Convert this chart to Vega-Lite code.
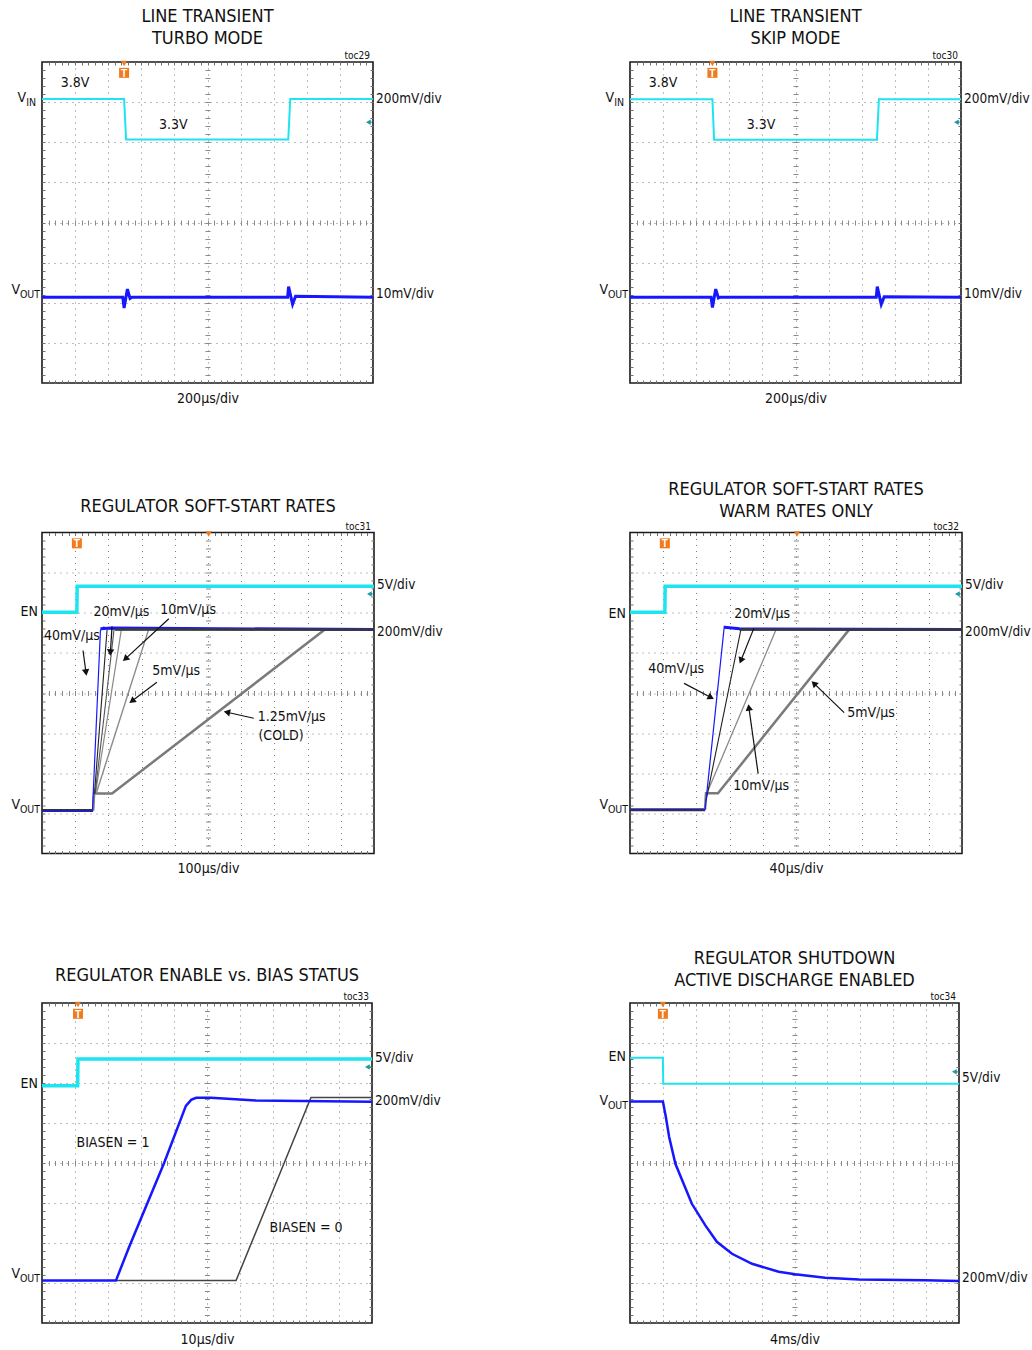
{
"$schema":"https://vega.github.io/schema/vega-lite/v6.json",
"background":"white",
"padding":{"left":10,"top":7,"right":0,"bottom":0},
"autosize":{"type":"pad"},
"bounds":"flush",
"columns":2,
"spacing":{"row":149.5,"column":256},
"datasets":{"d":[
{"p":1,"k":"tr","s":"VIN","i":0,"x":0,"y":7.08},{"p":1,"k":"tr","s":"VIN","i":1,"x":2.48,"y":7.08},{"p":1,"k":"tr","s":"VIN","i":2,"x":2.54,"y":6.07},{"p":1,"k":"tr","s":"VIN","i":3,"x":7.44,"y":6.07},{"p":1,"k":"tr","s":"VIN","i":4,"x":7.5,"y":7.08},{"p":1,"k":"tr","s":"VIN","i":5,"x":10,"y":7.08},
{"p":1,"k":"tr","s":"VOUT","i":0,"x":0,"y":2.14},{"p":1,"k":"tr","s":"VOUT","i":1,"x":2.44,"y":2.14},{"p":1,"k":"tr","s":"VOUT","i":2,"x":2.48,"y":1.87},{"p":1,"k":"tr","s":"VOUT","i":3,"x":2.58,"y":2.34},{"p":1,"k":"tr","s":"VOUT","i":4,"x":2.66,"y":2.11},{"p":1,"k":"tr","s":"VOUT","i":5,"x":2.72,"y":2.14},{"p":1,"k":"tr","s":"VOUT","i":6,"x":7.42,"y":2.14},{"p":1,"k":"tr","s":"VOUT","i":7,"x":7.45,"y":2.4},{"p":1,"k":"tr","s":"VOUT","i":8,"x":7.57,"y":1.96},{"p":1,"k":"tr","s":"VOUT","i":9,"x":7.66,"y":2.16},{"p":1,"k":"tr","s":"VOUT","i":10,"x":10,"y":2.14},
{"p":1,"k":"LV","t":"V","s":"IN","y":7.1},{"p":1,"k":"LV","t":"V","s":"OUT","y":2.32},
{"p":1,"k":"R","t":"200mV/div","y":7.08},{"p":1,"k":"R","t":"10mV/div","y":2.22},
{"p":1,"k":"A","t":"3.8V","x":1.0,"y":7.48},{"p":1,"k":"A","t":"3.3V","x":3.97,"y":6.43},
{"p":1,"k":"T","x":2.48},{"p":1,"k":"TR","x":2.48},{"p":1,"k":"G","y":6.5},{"p":1,"k":"toc","t":"toc29"},

{"p":2,"k":"tr","s":"VIN","i":0,"x":0,"y":7.07},{"p":2,"k":"tr","s":"VIN","i":1,"x":2.49,"y":7.07},{"p":2,"k":"tr","s":"VIN","i":2,"x":2.54,"y":6.06},{"p":2,"k":"tr","s":"VIN","i":3,"x":7.46,"y":6.06},{"p":2,"k":"tr","s":"VIN","i":4,"x":7.52,"y":7.07},{"p":2,"k":"tr","s":"VIN","i":5,"x":10,"y":7.07},
{"p":2,"k":"tr","s":"VOUT","i":0,"x":0,"y":2.14},{"p":2,"k":"tr","s":"VOUT","i":1,"x":2.45,"y":2.14},{"p":2,"k":"tr","s":"VOUT","i":2,"x":2.49,"y":1.88},{"p":2,"k":"tr","s":"VOUT","i":3,"x":2.59,"y":2.34},{"p":2,"k":"tr","s":"VOUT","i":4,"x":2.67,"y":2.12},{"p":2,"k":"tr","s":"VOUT","i":5,"x":2.73,"y":2.14},{"p":2,"k":"tr","s":"VOUT","i":6,"x":7.44,"y":2.14},{"p":2,"k":"tr","s":"VOUT","i":7,"x":7.47,"y":2.4},{"p":2,"k":"tr","s":"VOUT","i":8,"x":7.59,"y":1.96},{"p":2,"k":"tr","s":"VOUT","i":9,"x":7.68,"y":2.15},{"p":2,"k":"tr","s":"VOUT","i":10,"x":10,"y":2.14},
{"p":2,"k":"LV","t":"V","s":"IN","y":7.1},{"p":2,"k":"LV","t":"V","s":"OUT","y":2.32},
{"p":2,"k":"R","t":"200mV/div","y":7.08},{"p":2,"k":"R","t":"10mV/div","y":2.22},
{"p":2,"k":"A","t":"3.8V","x":1.0,"y":7.48},{"p":2,"k":"A","t":"3.3V","x":3.96,"y":6.43},
{"p":2,"k":"T","x":2.49},{"p":2,"k":"TR","x":2.49},{"p":2,"k":"G","y":6.5},{"p":2,"k":"toc","t":"toc30"},

{"p":3,"k":"tr","s":"EN","i":0,"x":0,"y":6.01},{"p":3,"k":"tr","s":"EN","i":1,"x":1.05,"y":6.01},{"p":3,"k":"tr","s":"EN","i":2,"x":1.06,"y":6.66},{"p":3,"k":"tr","s":"EN","i":3,"x":10,"y":6.66},
{"p":3,"k":"tr","s":"base","i":0,"x":0,"y":1.07},{"p":3,"k":"tr","s":"base","i":1,"x":1.54,"y":1.07},
{"p":3,"k":"tr","s":"r125","i":0,"x":1.54,"y":1.07},{"p":3,"k":"tr","s":"r125","i":1,"x":1.57,"y":1.495},{"p":3,"k":"tr","s":"r125","i":2,"x":2.11,"y":1.495},{"p":3,"k":"tr","s":"r125","i":3,"x":8.52,"y":5.58},{"p":3,"k":"tr","s":"r125","i":4,"x":10,"y":5.58},
{"p":3,"k":"tr","s":"r5","i":0,"x":1.63,"y":1.49},{"p":3,"k":"tr","s":"r5","i":1,"x":3.21,"y":5.58},
{"p":3,"k":"tr","s":"r10","i":0,"x":1.61,"y":1.49},{"p":3,"k":"tr","s":"r10","i":1,"x":2.39,"y":5.58},
{"p":3,"k":"tr","s":"r20b","i":0,"x":1.6,"y":1.49},{"p":3,"k":"tr","s":"r20b","i":1,"x":2.17,"y":5.58},
{"p":3,"k":"tr","s":"r20","i":0,"x":1.58,"y":1.49},{"p":3,"k":"tr","s":"r20","i":1,"x":1.96,"y":5.58},
{"p":3,"k":"tr","s":"blue","i":0,"x":0,"y":1.07},{"p":3,"k":"tr","s":"blue","i":1,"x":1.52,"y":1.07},{"p":3,"k":"tr","s":"blue","i":2,"x":1.76,"y":5.56},{"p":3,"k":"tr","s":"blue","i":3,"x":1.85,"y":5.64},{"p":3,"k":"tr","s":"blue","i":4,"x":2.1,"y":5.6},{"p":3,"k":"tr","s":"blue","i":5,"x":10,"y":5.58},
{"p":3,"k":"tr","s":"bluetop","i":0,"x":1.76,"y":5.6},{"p":3,"k":"tr","s":"bluetop","i":1,"x":2.1,"y":5.62},{"p":3,"k":"tr","s":"bluetop","i":2,"x":10,"y":5.58},
{"p":3,"k":"tr","s":"top","i":0,"x":2.2,"y":5.58},{"p":3,"k":"tr","s":"top","i":1,"x":10,"y":5.58},
{"p":3,"k":"L","t":"EN","y":6.01},{"p":3,"k":"LV","t":"V","s":"OUT","y":1.22},
{"p":3,"k":"R","t":"5V/div","y":6.7},{"p":3,"k":"R","t":"200mV/div","y":5.53},
{"p":3,"k":"A","t":"40mV/µs","x":0.9,"y":5.41},{"p":3,"k":"A","t":"20mV/µs","x":2.39,"y":6.01},{"p":3,"k":"A","t":"10mV/µs","x":4.4,"y":6.08},{"p":3,"k":"A","t":"5mV/µs","x":4.04,"y":4.56},{"p":3,"k":"A","t":"1.25mV/µs","x":7.52,"y":3.41},{"p":3,"k":"A","t":"(COLD)","x":7.2,"y":2.94},
{"p":3,"k":"W","x":1.235,"y":5.06,"x2":1.325,"y2":4.51},{"p":3,"k":"W","x":2.11,"y":5.66,"x2":2.06,"y2":5.01},{"p":3,"k":"W","x":3.82,"y":5.85,"x2":2.51,"y2":4.85},{"p":3,"k":"W","x":3.46,"y":4.27,"x2":2.71,"y2":3.8},{"p":3,"k":"W","x":6.38,"y":3.37,"x2":5.57,"y2":3.52},
{"p":3,"k":"T","x":1.05},{"p":3,"k":"TR","x":5.02},{"p":3,"k":"G","y":6.47},{"p":3,"k":"toc","t":"toc31"},

{"p":4,"k":"tr","s":"EN","i":0,"x":0,"y":6.01},{"p":4,"k":"tr","s":"EN","i":1,"x":1.05,"y":6.01},{"p":4,"k":"tr","s":"EN","i":2,"x":1.06,"y":6.66},{"p":4,"k":"tr","s":"EN","i":3,"x":10,"y":6.66},
{"p":4,"k":"tr","s":"base","i":0,"x":0,"y":1.09},{"p":4,"k":"tr","s":"base","i":1,"x":2.26,"y":1.09},
{"p":4,"k":"tr","s":"r125","i":0,"x":2.26,"y":1.09},{"p":4,"k":"tr","s":"r125","i":1,"x":2.29,"y":1.5},{"p":4,"k":"tr","s":"r125","i":2,"x":2.65,"y":1.5},{"p":4,"k":"tr","s":"r125","i":3,"x":6.6,"y":5.58},{"p":4,"k":"tr","s":"r125","i":4,"x":10,"y":5.58},
{"p":4,"k":"tr","s":"r10","i":0,"x":2.29,"y":1.45},{"p":4,"k":"tr","s":"r10","i":1,"x":4.4,"y":5.58},
{"p":4,"k":"tr","s":"r20","i":0,"x":2.29,"y":1.32},{"p":4,"k":"tr","s":"r20","i":1,"x":3.34,"y":5.58},
{"p":4,"k":"tr","s":"blue","i":0,"x":0,"y":1.09},{"p":4,"k":"tr","s":"blue","i":1,"x":2.26,"y":1.09},{"p":4,"k":"tr","s":"blue","i":2,"x":2.84,"y":5.66},{"p":4,"k":"tr","s":"blue","i":3,"x":2.95,"y":5.62},{"p":4,"k":"tr","s":"blue","i":4,"x":3.3,"y":5.6},{"p":4,"k":"tr","s":"blue","i":5,"x":10,"y":5.58},
{"p":4,"k":"tr","s":"bluetop","i":0,"x":2.84,"y":5.64},{"p":4,"k":"tr","s":"bluetop","i":1,"x":3.3,"y":5.6},{"p":4,"k":"tr","s":"bluetop","i":2,"x":10,"y":5.58},
{"p":4,"k":"tr","s":"top","i":0,"x":3.3,"y":5.58},{"p":4,"k":"tr","s":"top","i":1,"x":10,"y":5.58},
{"p":4,"k":"L","t":"EN","y":5.98},{"p":4,"k":"LV","t":"V","s":"OUT","y":1.22},
{"p":4,"k":"R","t":"5V/div","y":6.7},{"p":4,"k":"R","t":"200mV/div","y":5.53},
{"p":4,"k":"A","t":"20mV/µs","x":3.98,"y":5.98},{"p":4,"k":"A","t":"40mV/µs","x":1.39,"y":4.61},{"p":4,"k":"A","t":"5mV/µs","x":7.26,"y":3.49},{"p":4,"k":"A","t":"10mV/µs","x":3.95,"y":1.67},
{"p":4,"k":"W","x":3.73,"y":5.61,"x2":3.34,"y2":4.81},{"p":4,"k":"W","x":1.63,"y":4.24,"x2":2.44,"y2":3.89},{"p":4,"k":"W","x":6.45,"y":3.51,"x2":5.54,"y2":4.24},{"p":4,"k":"W","x":3.86,"y":1.99,"x2":3.58,"y2":3.64},
{"p":4,"k":"T","x":1.05},{"p":4,"k":"TR","x":5.03},{"p":4,"k":"G","y":6.47},{"p":4,"k":"toc","t":"toc32"},

{"p":5,"k":"tr","s":"EN","i":0,"x":0,"y":5.93},{"p":5,"k":"tr","s":"EN","i":1,"x":1.08,"y":5.93},{"p":5,"k":"tr","s":"EN","i":2,"x":1.09,"y":6.6},{"p":5,"k":"tr","s":"EN","i":3,"x":10,"y":6.6},
{"p":5,"k":"tr","s":"blk","i":0,"x":2.24,"y":1.06},{"p":5,"k":"tr","s":"blk","i":1,"x":5.88,"y":1.06},{"p":5,"k":"tr","s":"blk","i":2,"x":8.15,"y":5.64},{"p":5,"k":"tr","s":"blk","i":3,"x":10,"y":5.64},
{"p":5,"k":"tr","s":"blue","i":0,"x":0,"y":1.06},{"p":5,"k":"tr","s":"blue","i":1,"x":2.24,"y":1.06},{"p":5,"k":"tr","s":"blue","i":2,"x":2.64,"y":1.9},{"p":5,"k":"tr","s":"blue","i":3,"x":3.7,"y":4.0},{"p":5,"k":"tr","s":"blue","i":4,"x":4.36,"y":5.43},{"p":5,"k":"tr","s":"blue","i":5,"x":4.52,"y":5.58},{"p":5,"k":"tr","s":"blue","i":6,"x":4.67,"y":5.63},{"p":5,"k":"tr","s":"blue","i":7,"x":5.12,"y":5.63},{"p":5,"k":"tr","s":"blue","i":8,"x":6.48,"y":5.56},{"p":5,"k":"tr","s":"blue","i":9,"x":10,"y":5.53},
{"p":5,"k":"L","t":"EN","y":5.98},{"p":5,"k":"LV","t":"V","s":"OUT","y":1.23},
{"p":5,"k":"R","t":"5V/div","y":6.63},{"p":5,"k":"R","t":"200mV/div","y":5.55},
{"p":5,"k":"A","t":"BIASEN = 1","x":2.15,"y":4.51},{"p":5,"k":"A","t":"BIASEN = 0","x":8.0,"y":2.38},
{"p":5,"k":"T","x":1.09},{"p":5,"k":"TR","x":1.09},{"p":5,"k":"G","y":6.4},{"p":5,"k":"toc","t":"toc33"},

{"p":6,"k":"tr","s":"EN","i":0,"x":0,"y":6.63},{"p":6,"k":"tr","s":"EN","i":1,"x":1.0,"y":6.63},{"p":6,"k":"tr","s":"EN","i":2,"x":1.01,"y":5.98},{"p":6,"k":"tr","s":"EN","i":3,"x":10,"y":5.98},
{"p":6,"k":"tr","s":"blue","i":0,"x":0,"y":5.54},{"p":6,"k":"tr","s":"blue","i":1,"x":1.0,"y":5.54},{"p":6,"k":"tr","s":"blue","i":2,"x":1.09,"y":5.15},{"p":6,"k":"tr","s":"blue","i":3,"x":1.19,"y":4.65},{"p":6,"k":"tr","s":"blue","i":4,"x":1.38,"y":3.98},{"p":6,"k":"tr","s":"blue","i":5,"x":1.88,"y":2.98},{"p":6,"k":"tr","s":"blue","i":6,"x":2.29,"y":2.44},{"p":6,"k":"tr","s":"blue","i":7,"x":2.64,"y":2.03},{"p":6,"k":"tr","s":"blue","i":8,"x":3.1,"y":1.73},{"p":6,"k":"tr","s":"blue","i":9,"x":3.71,"y":1.48},{"p":6,"k":"tr","s":"blue","i":10,"x":4.52,"y":1.28},{"p":6,"k":"tr","s":"blue","i":11,"x":5.02,"y":1.22},{"p":6,"k":"tr","s":"blue","i":12,"x":5.93,"y":1.13},{"p":6,"k":"tr","s":"blue","i":13,"x":6.96,"y":1.09},{"p":6,"k":"tr","s":"blue","i":14,"x":8.97,"y":1.07},{"p":6,"k":"tr","s":"blue","i":15,"x":10,"y":1.05},
{"p":6,"k":"L","t":"EN","y":6.65},{"p":6,"k":"LV","t":"V","s":"OUT","y":5.55},
{"p":6,"k":"R","t":"5V/div","y":6.13},{"p":6,"k":"R","t":"200mV/div","y":1.13},
{"p":6,"k":"T","x":1.0},{"p":6,"k":"TR","x":1.0},{"p":6,"k":"G","y":6.28},{"p":6,"k":"toc","t":"toc34"}
]},
"concat":[
{"width":331,"height":321,"title":{"text":["LINE TRANSIENT","TURBO MODE"],"offset":3},
"data":{"name":"d"},"transform":[{"filter":"datum.p==1"}],
"resolve":{"axis":{"x":"independent","y":"independent"}},
"layer":[
{"data":{"values":[{}]},"mark":{"type":"point","opacity":0},"encoding":{"x":{"datum":0,"type":"quantitative","scale":{"domain":[0,10],"nice":false,"zero":false},"axis":{"orient":"bottom","values":[1,2,3,4,5,6,7,8,9],"grid":true,"ticks":false,"title":"200µs/div","titlePadding":8,"titleBaseline":"top"}},"y":{"datum":0,"type":"quantitative","scale":{"domain":[0,8],"nice":false,"zero":false},"axis":{"orient":"left","values":[1,2,3,4,5,6,7],"grid":true,"ticks":false,"title":null}}}},
{"data":{"values":[{}]},"mark":{"type":"point","opacity":0},"encoding":{"x":{"datum":0,"type":"quantitative","axis":{"orient":"top","offset":-3,"title":null,"values":[0.2,0.4,0.6,0.8,1,1.2,1.4,1.6,1.8,2,2.2,2.4,2.6,2.8,3,3.2,3.4,3.6,3.8,4,4.2,4.4,4.6,4.8,5,5.2,5.4,5.6,5.8,6,6.2,6.4,6.6,6.8,7,7.2,7.4,7.6,7.8,8,8.2,8.4,8.6,8.8,9,9.2,9.4,9.6,9.8]}},"y":{"datum":0,"type":"quantitative","axis":{"orient":"left","offset":-3,"title":null,"values":[0.2,0.4,0.6,0.8,1,1.2,1.4,1.6,1.8,2,2.2,2.4,2.6,2.8,3,3.2,3.4,3.6,3.8,4,4.2,4.4,4.6,4.8,5,5.2,5.4,5.6,5.8,6,6.2,6.4,6.6,6.8,7,7.2,7.4,7.6,7.8]}}}},
{"data":{"values":[{}]},"mark":{"type":"point","opacity":0},"encoding":{"x":{"datum":0,"type":"quantitative","axis":{"orient":"bottom","offset":-3,"title":null,"values":[0.2,0.4,0.6,0.8,1,1.2,1.4,1.6,1.8,2,2.2,2.4,2.6,2.8,3,3.2,3.4,3.6,3.8,4,4.2,4.4,4.6,4.8,5,5.2,5.4,5.6,5.8,6,6.2,6.4,6.6,6.8,7,7.2,7.4,7.6,7.8,8,8.2,8.4,8.6,8.8,9,9.2,9.4,9.6,9.8]}},"y":{"datum":0,"type":"quantitative","axis":{"orient":"right","offset":-3,"title":null,"values":[0.2,0.4,0.6,0.8,1,1.2,1.4,1.6,1.8,2,2.2,2.4,2.6,2.8,3,3.2,3.4,3.6,3.8,4,4.2,4.4,4.6,4.8,5,5.2,5.4,5.6,5.8,6,6.2,6.4,6.6,6.8,7,7.2,7.4,7.6,7.8]}}}},
{"data":{"values":[{}]},"mark":{"type":"point","opacity":0},"encoding":{"x":{"datum":0,"type":"quantitative","axis":{"orient":"bottom","offset":-163,"tickSize":5,"tickColor":"#8a8a8a","title":null,"values":[0.2,0.4,0.6,0.8,1,1.2,1.4,1.6,1.8,2,2.2,2.4,2.6,2.8,3,3.2,3.4,3.6,3.8,4,4.2,4.4,4.6,4.8,5,5.2,5.4,5.6,5.8,6,6.2,6.4,6.6,6.8,7,7.2,7.4,7.6,7.8,8,8.2,8.4,8.6,8.8,9,9.2,9.4,9.6,9.8]}},"y":{"datum":0,"type":"quantitative","axis":{"orient":"left","offset":-168,"tickSize":5,"tickColor":"#8a8a8a","title":null,"values":[0.2,0.4,0.6,0.8,1,1.2,1.4,1.6,1.8,2,2.2,2.4,2.6,2.8,3,3.2,3.4,3.6,3.8,4,4.2,4.4,4.6,4.8,5,5.2,5.4,5.6,5.8,6,6.2,6.4,6.6,6.8,7,7.2,7.4,7.6,7.8]}}}},
{"transform":[{"filter":"datum.k=='tr'&&datum.s=='VIN'"}],"mark":{"type":"line","color":"#1ee4f0","strokeWidth":2},"encoding":{"x":{"field":"x","type":"quantitative","axis":null},"y":{"field":"y","type":"quantitative","axis":null},"order":{"field":"i","type":"quantitative"}}},
{"transform":[{"filter":"datum.k=='tr'&&datum.s=='VOUT'"}],"mark":{"type":"line","color":"#1717ff","strokeWidth":3},"encoding":{"x":{"field":"x","type":"quantitative","axis":null},"y":{"field":"y","type":"quantitative","axis":null},"order":{"field":"i","type":"quantitative"}}},
{"transform":[{"filter":"datum.k=='LV'&&datum.s=='IN'"}],"mark":{"type":"text","align":"right","baseline":"middle","dx":-16},"encoding":{"x":{"datum":0,"type":"quantitative","axis":null},"y":{"field":"y","type":"quantitative","axis":null},"text":{"field":"t"}}},
{"transform":[{"filter":"datum.k=='LV'&&datum.s=='IN'"}],"mark":{"type":"text","align":"right","baseline":"middle","dx":-6,"dy":5,"fontSize":10.5},"encoding":{"x":{"datum":0,"type":"quantitative","axis":null},"y":{"field":"y","type":"quantitative","axis":null},"text":{"field":"s"}}},
{"transform":[{"filter":"datum.k=='LV'&&datum.s=='OUT'"}],"mark":{"type":"text","align":"right","baseline":"middle","dx":-22},"encoding":{"x":{"datum":0,"type":"quantitative","axis":null},"y":{"field":"y","type":"quantitative","axis":null},"text":{"field":"t"}}},
{"transform":[{"filter":"datum.k=='LV'&&datum.s=='OUT'"}],"mark":{"type":"text","align":"right","baseline":"middle","dx":-2,"dy":5,"fontSize":10.5},"encoding":{"x":{"datum":0,"type":"quantitative","axis":null},"y":{"field":"y","type":"quantitative","axis":null},"text":{"field":"s"}}},
{"transform":[{"filter":"datum.k=='R'"}],"mark":{"type":"text","align":"left","baseline":"middle","dx":3,"fontSize":13.5},"encoding":{"x":{"datum":10,"type":"quantitative","axis":null},"y":{"field":"y","type":"quantitative","axis":null},"text":{"field":"t"}}},
{"transform":[{"filter":"datum.k=='A'"}],"mark":{"type":"text","align":"center","baseline":"middle"},"encoding":{"x":{"field":"x","type":"quantitative","axis":null},"y":{"field":"y","type":"quantitative","axis":null},"text":{"field":"t"}}},
{"transform":[{"filter":"datum.k=='toc'"}],"mark":{"type":"text","align":"right","baseline":"alphabetic","dx":-3,"dy":-3,"fontSize":10},"encoding":{"x":{"datum":10,"type":"quantitative","axis":null},"y":{"datum":8,"type":"quantitative","axis":null},"text":{"field":"t"}}},
{"transform":[{"filter":"datum.k=='TR'"}],"mark":{"type":"point","shape":"triangle-down","filled":true,"color":"#f07a1e","opacity":1,"size":40},"encoding":{"x":{"field":"x","type":"quantitative","axis":null},"y":{"datum":7.96,"type":"quantitative","axis":null}}},
{"transform":[{"filter":"datum.k=='T'"}],"mark":{"type":"point","shape":"square","filled":true,"color":"#f07a1e","opacity":1,"size":100},"encoding":{"x":{"field":"x","type":"quantitative","axis":null},"y":{"datum":7.73,"type":"quantitative","axis":null}}},
{"transform":[{"filter":"datum.k=='T'"}],"mark":{"type":"text","text":"T","color":"white","fontWeight":"bold","fontSize":10,"font":"Liberation Sans","baseline":"middle","align":"center","dy":1},"encoding":{"x":{"field":"x","type":"quantitative","axis":null},"y":{"datum":7.73,"type":"quantitative","axis":null}}},
{"transform":[{"filter":"datum.k=='G'"}],"mark":{"type":"rule","color":"#1b9aa0","strokeWidth":1.5},"encoding":{"x":{"datum":9.86,"type":"quantitative","axis":null},"x2":{"datum":9.96},"y":{"field":"y","type":"quantitative","axis":null}}},
{"transform":[{"filter":"datum.k=='G'"}],"mark":{"type":"point","shape":"triangle-left","filled":true,"color":"#1b9aa0","opacity":1,"size":30},"encoding":{"x":{"datum":9.86,"type":"quantitative","axis":null},"y":{"field":"y","type":"quantitative","axis":null}}}
]},
{"width":331,"height":321,"title":{"text":["LINE TRANSIENT","SKIP MODE"],"offset":3},
"data":{"name":"d"},"transform":[{"filter":"datum.p==2"}],
"resolve":{"axis":{"x":"independent","y":"independent"}},
"layer":[
{"data":{"values":[{}]},"mark":{"type":"point","opacity":0},"encoding":{"x":{"datum":0,"type":"quantitative","scale":{"domain":[0,10],"nice":false,"zero":false},"axis":{"orient":"bottom","values":[1,2,3,4,5,6,7,8,9],"grid":true,"ticks":false,"title":"200µs/div","titlePadding":8,"titleBaseline":"top"}},"y":{"datum":0,"type":"quantitative","scale":{"domain":[0,8],"nice":false,"zero":false},"axis":{"orient":"left","values":[1,2,3,4,5,6,7],"grid":true,"ticks":false,"title":null}}}},
{"data":{"values":[{}]},"mark":{"type":"point","opacity":0},"encoding":{"x":{"datum":0,"type":"quantitative","axis":{"orient":"top","offset":-3,"title":null,"values":[0.2,0.4,0.6,0.8,1,1.2,1.4,1.6,1.8,2,2.2,2.4,2.6,2.8,3,3.2,3.4,3.6,3.8,4,4.2,4.4,4.6,4.8,5,5.2,5.4,5.6,5.8,6,6.2,6.4,6.6,6.8,7,7.2,7.4,7.6,7.8,8,8.2,8.4,8.6,8.8,9,9.2,9.4,9.6,9.8]}},"y":{"datum":0,"type":"quantitative","axis":{"orient":"left","offset":-3,"title":null,"values":[0.2,0.4,0.6,0.8,1,1.2,1.4,1.6,1.8,2,2.2,2.4,2.6,2.8,3,3.2,3.4,3.6,3.8,4,4.2,4.4,4.6,4.8,5,5.2,5.4,5.6,5.8,6,6.2,6.4,6.6,6.8,7,7.2,7.4,7.6,7.8]}}}},
{"data":{"values":[{}]},"mark":{"type":"point","opacity":0},"encoding":{"x":{"datum":0,"type":"quantitative","axis":{"orient":"bottom","offset":-3,"title":null,"values":[0.2,0.4,0.6,0.8,1,1.2,1.4,1.6,1.8,2,2.2,2.4,2.6,2.8,3,3.2,3.4,3.6,3.8,4,4.2,4.4,4.6,4.8,5,5.2,5.4,5.6,5.8,6,6.2,6.4,6.6,6.8,7,7.2,7.4,7.6,7.8,8,8.2,8.4,8.6,8.8,9,9.2,9.4,9.6,9.8]}},"y":{"datum":0,"type":"quantitative","axis":{"orient":"right","offset":-3,"title":null,"values":[0.2,0.4,0.6,0.8,1,1.2,1.4,1.6,1.8,2,2.2,2.4,2.6,2.8,3,3.2,3.4,3.6,3.8,4,4.2,4.4,4.6,4.8,5,5.2,5.4,5.6,5.8,6,6.2,6.4,6.6,6.8,7,7.2,7.4,7.6,7.8]}}}},
{"data":{"values":[{}]},"mark":{"type":"point","opacity":0},"encoding":{"x":{"datum":0,"type":"quantitative","axis":{"orient":"bottom","offset":-163,"tickSize":5,"tickColor":"#8a8a8a","title":null,"values":[0.2,0.4,0.6,0.8,1,1.2,1.4,1.6,1.8,2,2.2,2.4,2.6,2.8,3,3.2,3.4,3.6,3.8,4,4.2,4.4,4.6,4.8,5,5.2,5.4,5.6,5.8,6,6.2,6.4,6.6,6.8,7,7.2,7.4,7.6,7.8,8,8.2,8.4,8.6,8.8,9,9.2,9.4,9.6,9.8]}},"y":{"datum":0,"type":"quantitative","axis":{"orient":"left","offset":-168,"tickSize":5,"tickColor":"#8a8a8a","title":null,"values":[0.2,0.4,0.6,0.8,1,1.2,1.4,1.6,1.8,2,2.2,2.4,2.6,2.8,3,3.2,3.4,3.6,3.8,4,4.2,4.4,4.6,4.8,5,5.2,5.4,5.6,5.8,6,6.2,6.4,6.6,6.8,7,7.2,7.4,7.6,7.8]}}}},
{"transform":[{"filter":"datum.k=='tr'&&datum.s=='VIN'"}],"mark":{"type":"line","color":"#1ee4f0","strokeWidth":2},"encoding":{"x":{"field":"x","type":"quantitative","axis":null},"y":{"field":"y","type":"quantitative","axis":null},"order":{"field":"i","type":"quantitative"}}},
{"transform":[{"filter":"datum.k=='tr'&&datum.s=='VOUT'"}],"mark":{"type":"line","color":"#1717ff","strokeWidth":3},"encoding":{"x":{"field":"x","type":"quantitative","axis":null},"y":{"field":"y","type":"quantitative","axis":null},"order":{"field":"i","type":"quantitative"}}},
{"transform":[{"filter":"datum.k=='LV'&&datum.s=='IN'"}],"mark":{"type":"text","align":"right","baseline":"middle","dx":-16},"encoding":{"x":{"datum":0,"type":"quantitative","axis":null},"y":{"field":"y","type":"quantitative","axis":null},"text":{"field":"t"}}},
{"transform":[{"filter":"datum.k=='LV'&&datum.s=='IN'"}],"mark":{"type":"text","align":"right","baseline":"middle","dx":-6,"dy":5,"fontSize":10.5},"encoding":{"x":{"datum":0,"type":"quantitative","axis":null},"y":{"field":"y","type":"quantitative","axis":null},"text":{"field":"s"}}},
{"transform":[{"filter":"datum.k=='LV'&&datum.s=='OUT'"}],"mark":{"type":"text","align":"right","baseline":"middle","dx":-22},"encoding":{"x":{"datum":0,"type":"quantitative","axis":null},"y":{"field":"y","type":"quantitative","axis":null},"text":{"field":"t"}}},
{"transform":[{"filter":"datum.k=='LV'&&datum.s=='OUT'"}],"mark":{"type":"text","align":"right","baseline":"middle","dx":-2,"dy":5,"fontSize":10.5},"encoding":{"x":{"datum":0,"type":"quantitative","axis":null},"y":{"field":"y","type":"quantitative","axis":null},"text":{"field":"s"}}},
{"transform":[{"filter":"datum.k=='R'"}],"mark":{"type":"text","align":"left","baseline":"middle","dx":3,"fontSize":13.5},"encoding":{"x":{"datum":10,"type":"quantitative","axis":null},"y":{"field":"y","type":"quantitative","axis":null},"text":{"field":"t"}}},
{"transform":[{"filter":"datum.k=='A'"}],"mark":{"type":"text","align":"center","baseline":"middle"},"encoding":{"x":{"field":"x","type":"quantitative","axis":null},"y":{"field":"y","type":"quantitative","axis":null},"text":{"field":"t"}}},
{"transform":[{"filter":"datum.k=='toc'"}],"mark":{"type":"text","align":"right","baseline":"alphabetic","dx":-3,"dy":-3,"fontSize":10},"encoding":{"x":{"datum":10,"type":"quantitative","axis":null},"y":{"datum":8,"type":"quantitative","axis":null},"text":{"field":"t"}}},
{"transform":[{"filter":"datum.k=='TR'"}],"mark":{"type":"point","shape":"triangle-down","filled":true,"color":"#f07a1e","opacity":1,"size":40},"encoding":{"x":{"field":"x","type":"quantitative","axis":null},"y":{"datum":7.96,"type":"quantitative","axis":null}}},
{"transform":[{"filter":"datum.k=='T'"}],"mark":{"type":"point","shape":"square","filled":true,"color":"#f07a1e","opacity":1,"size":100},"encoding":{"x":{"field":"x","type":"quantitative","axis":null},"y":{"datum":7.73,"type":"quantitative","axis":null}}},
{"transform":[{"filter":"datum.k=='T'"}],"mark":{"type":"text","text":"T","color":"white","fontWeight":"bold","fontSize":10,"font":"Liberation Sans","baseline":"middle","align":"center","dy":1},"encoding":{"x":{"field":"x","type":"quantitative","axis":null},"y":{"datum":7.73,"type":"quantitative","axis":null}}},
{"transform":[{"filter":"datum.k=='G'"}],"mark":{"type":"rule","color":"#1b9aa0","strokeWidth":1.5},"encoding":{"x":{"datum":9.86,"type":"quantitative","axis":null},"x2":{"datum":9.96},"y":{"field":"y","type":"quantitative","axis":null}}},
{"transform":[{"filter":"datum.k=='G'"}],"mark":{"type":"point","shape":"triangle-left","filled":true,"color":"#1b9aa0","opacity":1,"size":30},"encoding":{"x":{"datum":9.86,"type":"quantitative","axis":null},"y":{"field":"y","type":"quantitative","axis":null}}}
]},
{"width":332,"height":321,"title":{"text":"REGULATOR SOFT-START RATES","offset":6},
"data":{"name":"d"},"transform":[{"filter":"datum.p==3"}],
"resolve":{"axis":{"x":"independent","y":"independent"}},
"layer":[
{"data":{"values":[{}]},"mark":{"type":"point","opacity":0},"encoding":{"x":{"datum":0,"type":"quantitative","scale":{"domain":[0,10],"nice":false,"zero":false},"axis":{"orient":"bottom","values":[1,2,3,4,5,6,7,8,9],"grid":true,"ticks":false,"title":"100µs/div","titlePadding":8,"titleBaseline":"top"}},"y":{"datum":0,"type":"quantitative","scale":{"domain":[0,8],"nice":false,"zero":false},"axis":{"orient":"left","values":[1,2,3,4,5,6,7],"grid":true,"ticks":false,"title":null}}}},
{"data":{"values":[{}]},"mark":{"type":"point","opacity":0},"encoding":{"x":{"datum":0,"type":"quantitative","axis":{"orient":"top","offset":-3,"title":null,"values":[0.2,0.4,0.6,0.8,1,1.2,1.4,1.6,1.8,2,2.2,2.4,2.6,2.8,3,3.2,3.4,3.6,3.8,4,4.2,4.4,4.6,4.8,5,5.2,5.4,5.6,5.8,6,6.2,6.4,6.6,6.8,7,7.2,7.4,7.6,7.8,8,8.2,8.4,8.6,8.8,9,9.2,9.4,9.6,9.8]}},"y":{"datum":0,"type":"quantitative","axis":{"orient":"left","offset":-3,"title":null,"values":[0.2,0.4,0.6,0.8,1,1.2,1.4,1.6,1.8,2,2.2,2.4,2.6,2.8,3,3.2,3.4,3.6,3.8,4,4.2,4.4,4.6,4.8,5,5.2,5.4,5.6,5.8,6,6.2,6.4,6.6,6.8,7,7.2,7.4,7.6,7.8]}}}},
{"data":{"values":[{}]},"mark":{"type":"point","opacity":0},"encoding":{"x":{"datum":0,"type":"quantitative","axis":{"orient":"bottom","offset":-3,"title":null,"values":[0.2,0.4,0.6,0.8,1,1.2,1.4,1.6,1.8,2,2.2,2.4,2.6,2.8,3,3.2,3.4,3.6,3.8,4,4.2,4.4,4.6,4.8,5,5.2,5.4,5.6,5.8,6,6.2,6.4,6.6,6.8,7,7.2,7.4,7.6,7.8,8,8.2,8.4,8.6,8.8,9,9.2,9.4,9.6,9.8]}},"y":{"datum":0,"type":"quantitative","axis":{"orient":"right","offset":-3,"title":null,"values":[0.2,0.4,0.6,0.8,1,1.2,1.4,1.6,1.8,2,2.2,2.4,2.6,2.8,3,3.2,3.4,3.6,3.8,4,4.2,4.4,4.6,4.8,5,5.2,5.4,5.6,5.8,6,6.2,6.4,6.6,6.8,7,7.2,7.4,7.6,7.8]}}}},
{"data":{"values":[{}]},"mark":{"type":"point","opacity":0},"encoding":{"x":{"datum":0,"type":"quantitative","axis":{"orient":"bottom","offset":-163,"tickSize":5,"tickColor":"#8a8a8a","title":null,"values":[0.2,0.4,0.6,0.8,1,1.2,1.4,1.6,1.8,2,2.2,2.4,2.6,2.8,3,3.2,3.4,3.6,3.8,4,4.2,4.4,4.6,4.8,5,5.2,5.4,5.6,5.8,6,6.2,6.4,6.6,6.8,7,7.2,7.4,7.6,7.8,8,8.2,8.4,8.6,8.8,9,9.2,9.4,9.6,9.8]}},"y":{"datum":0,"type":"quantitative","axis":{"orient":"left","offset":-168.5,"tickSize":5,"tickColor":"#8a8a8a","title":null,"values":[0.2,0.4,0.6,0.8,1,1.2,1.4,1.6,1.8,2,2.2,2.4,2.6,2.8,3,3.2,3.4,3.6,3.8,4,4.2,4.4,4.6,4.8,5,5.2,5.4,5.6,5.8,6,6.2,6.4,6.6,6.8,7,7.2,7.4,7.6,7.8]}}}},
{"transform":[{"filter":"datum.k=='tr'&&datum.s=='EN'"}],"mark":{"type":"line","color":"#1ee4f0","strokeWidth":3.5},"encoding":{"x":{"field":"x","type":"quantitative","axis":null},"y":{"field":"y","type":"quantitative","axis":null},"order":{"field":"i","type":"quantitative"}}},
{"transform":[{"filter":"datum.k=='tr'&&datum.s=='base'"}],"mark":{"type":"line","color":"#333333","strokeWidth":3},"encoding":{"x":{"field":"x","type":"quantitative","axis":null},"y":{"field":"y","type":"quantitative","axis":null},"order":{"field":"i","type":"quantitative"}}},
{"transform":[{"filter":"datum.k=='tr'&&datum.s=='r125'"}],"mark":{"type":"line","color":"#7a7a7a","strokeWidth":2.5},"encoding":{"x":{"field":"x","type":"quantitative","axis":null},"y":{"field":"y","type":"quantitative","axis":null},"order":{"field":"i","type":"quantitative"}}},
{"transform":[{"filter":"datum.k=='tr'&&datum.s=='r5'"}],"mark":{"type":"line","color":"#8a8a8a","strokeWidth":1.4},"encoding":{"x":{"field":"x","type":"quantitative","axis":null},"y":{"field":"y","type":"quantitative","axis":null},"order":{"field":"i","type":"quantitative"}}},
{"transform":[{"filter":"datum.k=='tr'&&datum.s=='r10'"}],"mark":{"type":"line","color":"#8a8a8a","strokeWidth":1.2},"encoding":{"x":{"field":"x","type":"quantitative","axis":null},"y":{"field":"y","type":"quantitative","axis":null},"order":{"field":"i","type":"quantitative"}}},
{"transform":[{"filter":"datum.k=='tr'&&datum.s=='r20b'"}],"mark":{"type":"line","color":"#555555","strokeWidth":1.1},"encoding":{"x":{"field":"x","type":"quantitative","axis":null},"y":{"field":"y","type":"quantitative","axis":null},"order":{"field":"i","type":"quantitative"}}},
{"transform":[{"filter":"datum.k=='tr'&&datum.s=='r20'"}],"mark":{"type":"line","color":"#222222","strokeWidth":1.1},"encoding":{"x":{"field":"x","type":"quantitative","axis":null},"y":{"field":"y","type":"quantitative","axis":null},"order":{"field":"i","type":"quantitative"}}},
{"transform":[{"filter":"datum.k=='tr'&&datum.s=='blue'"}],"mark":{"type":"line","color":"#1717ff","strokeWidth":1.2},"encoding":{"x":{"field":"x","type":"quantitative","axis":null},"y":{"field":"y","type":"quantitative","axis":null},"order":{"field":"i","type":"quantitative"}}},
{"transform":[{"filter":"datum.k=='tr'&&datum.s=='bluetop'"}],"mark":{"type":"line","color":"#1717ff","strokeWidth":3},"encoding":{"x":{"field":"x","type":"quantitative","axis":null},"y":{"field":"y","type":"quantitative","axis":null},"order":{"field":"i","type":"quantitative"}}},
{"transform":[{"filter":"datum.k=='tr'&&datum.s=='top'"}],"mark":{"type":"line","color":"#3a3a3a","strokeWidth":3,"opacity":0.85},"encoding":{"x":{"field":"x","type":"quantitative","axis":null},"y":{"field":"y","type":"quantitative","axis":null},"order":{"field":"i","type":"quantitative"}}},
{"transform":[{"filter":"datum.k=='L'"}],"mark":{"type":"text","align":"right","baseline":"middle","dx":-4},"encoding":{"x":{"datum":0,"type":"quantitative","axis":null},"y":{"field":"y","type":"quantitative","axis":null},"text":{"field":"t"}}},
{"transform":[{"filter":"datum.k=='LV'&&datum.s=='OUT'"}],"mark":{"type":"text","align":"right","baseline":"middle","dx":-22},"encoding":{"x":{"datum":0,"type":"quantitative","axis":null},"y":{"field":"y","type":"quantitative","axis":null},"text":{"field":"t"}}},
{"transform":[{"filter":"datum.k=='LV'&&datum.s=='OUT'"}],"mark":{"type":"text","align":"right","baseline":"middle","dx":-2,"dy":5,"fontSize":10.5},"encoding":{"x":{"datum":0,"type":"quantitative","axis":null},"y":{"field":"y","type":"quantitative","axis":null},"text":{"field":"s"}}},
{"transform":[{"filter":"datum.k=='R'"}],"mark":{"type":"text","align":"left","baseline":"middle","dx":3,"fontSize":13.5},"encoding":{"x":{"datum":10,"type":"quantitative","axis":null},"y":{"field":"y","type":"quantitative","axis":null},"text":{"field":"t"}}},
{"transform":[{"filter":"datum.k=='A'"}],"mark":{"type":"text","align":"center","baseline":"middle"},"encoding":{"x":{"field":"x","type":"quantitative","axis":null},"y":{"field":"y","type":"quantitative","axis":null},"text":{"field":"t"}}},
{"transform":[{"filter":"datum.k=='W'"}],"mark":{"type":"rule","color":"#111111","strokeWidth":1.2},"encoding":{"x":{"field":"x","type":"quantitative","axis":null},"y":{"field":"y","type":"quantitative","axis":null},"x2":{"field":"x2"},"y2":{"field":"y2"}}},
{"transform":[{"filter":"datum.k=='W'"},{"calculate":"atan2((datum.x2-datum.x)*33.2,(datum.y2-datum.y)*40.1)*180/PI","as":"ang"}],"mark":{"type":"point","shape":"triangle-up","filled":true,"color":"#111111","opacity":1,"size":55},"encoding":{"x":{"field":"x2","type":"quantitative","axis":null},"y":{"field":"y2","type":"quantitative","axis":null},"angle":{"field":"ang","type":"quantitative","scale":null}}},
{"transform":[{"filter":"datum.k=='toc'"}],"mark":{"type":"text","align":"right","baseline":"alphabetic","dx":-3,"dy":-3,"fontSize":10},"encoding":{"x":{"datum":10,"type":"quantitative","axis":null},"y":{"datum":8,"type":"quantitative","axis":null},"text":{"field":"t"}}},
{"transform":[{"filter":"datum.k=='TR'"}],"mark":{"type":"point","shape":"triangle-down","filled":true,"color":"#f07a1e","opacity":1,"size":40},"encoding":{"x":{"field":"x","type":"quantitative","axis":null},"y":{"datum":7.96,"type":"quantitative","axis":null}}},
{"transform":[{"filter":"datum.k=='T'"}],"mark":{"type":"point","shape":"square","filled":true,"color":"#f07a1e","opacity":1,"size":100},"encoding":{"x":{"field":"x","type":"quantitative","axis":null},"y":{"datum":7.73,"type":"quantitative","axis":null}}},
{"transform":[{"filter":"datum.k=='T'"}],"mark":{"type":"text","text":"T","color":"white","fontWeight":"bold","fontSize":10,"font":"Liberation Sans","baseline":"middle","align":"center","dy":1},"encoding":{"x":{"field":"x","type":"quantitative","axis":null},"y":{"datum":7.73,"type":"quantitative","axis":null}}},
{"transform":[{"filter":"datum.k=='G'"}],"mark":{"type":"rule","color":"#1b9aa0","strokeWidth":1.5},"encoding":{"x":{"datum":9.86,"type":"quantitative","axis":null},"x2":{"datum":9.96},"y":{"field":"y","type":"quantitative","axis":null}}},
{"transform":[{"filter":"datum.k=='G'"}],"mark":{"type":"point","shape":"triangle-left","filled":true,"color":"#1b9aa0","opacity":1,"size":30},"encoding":{"x":{"datum":9.86,"type":"quantitative","axis":null},"y":{"field":"y","type":"quantitative","axis":null}}}
]},
{"width":332,"height":321,"title":{"text":["REGULATOR SOFT-START RATES","WARM RATES ONLY"],"offset":1},
"data":{"name":"d"},"transform":[{"filter":"datum.p==4"}],
"resolve":{"axis":{"x":"independent","y":"independent"}},
"layer":[
{"data":{"values":[{}]},"mark":{"type":"point","opacity":0},"encoding":{"x":{"datum":0,"type":"quantitative","scale":{"domain":[0,10],"nice":false,"zero":false},"axis":{"orient":"bottom","values":[1,2,3,4,5,6,7,8,9],"grid":true,"ticks":false,"title":"40µs/div","titlePadding":8,"titleBaseline":"top"}},"y":{"datum":0,"type":"quantitative","scale":{"domain":[0,8],"nice":false,"zero":false},"axis":{"orient":"left","values":[1,2,3,4,5,6,7],"grid":true,"ticks":false,"title":null}}}},
{"data":{"values":[{}]},"mark":{"type":"point","opacity":0},"encoding":{"x":{"datum":0,"type":"quantitative","axis":{"orient":"top","offset":-3,"title":null,"values":[0.2,0.4,0.6,0.8,1,1.2,1.4,1.6,1.8,2,2.2,2.4,2.6,2.8,3,3.2,3.4,3.6,3.8,4,4.2,4.4,4.6,4.8,5,5.2,5.4,5.6,5.8,6,6.2,6.4,6.6,6.8,7,7.2,7.4,7.6,7.8,8,8.2,8.4,8.6,8.8,9,9.2,9.4,9.6,9.8]}},"y":{"datum":0,"type":"quantitative","axis":{"orient":"left","offset":-3,"title":null,"values":[0.2,0.4,0.6,0.8,1,1.2,1.4,1.6,1.8,2,2.2,2.4,2.6,2.8,3,3.2,3.4,3.6,3.8,4,4.2,4.4,4.6,4.8,5,5.2,5.4,5.6,5.8,6,6.2,6.4,6.6,6.8,7,7.2,7.4,7.6,7.8]}}}},
{"data":{"values":[{}]},"mark":{"type":"point","opacity":0},"encoding":{"x":{"datum":0,"type":"quantitative","axis":{"orient":"bottom","offset":-3,"title":null,"values":[0.2,0.4,0.6,0.8,1,1.2,1.4,1.6,1.8,2,2.2,2.4,2.6,2.8,3,3.2,3.4,3.6,3.8,4,4.2,4.4,4.6,4.8,5,5.2,5.4,5.6,5.8,6,6.2,6.4,6.6,6.8,7,7.2,7.4,7.6,7.8,8,8.2,8.4,8.6,8.8,9,9.2,9.4,9.6,9.8]}},"y":{"datum":0,"type":"quantitative","axis":{"orient":"right","offset":-3,"title":null,"values":[0.2,0.4,0.6,0.8,1,1.2,1.4,1.6,1.8,2,2.2,2.4,2.6,2.8,3,3.2,3.4,3.6,3.8,4,4.2,4.4,4.6,4.8,5,5.2,5.4,5.6,5.8,6,6.2,6.4,6.6,6.8,7,7.2,7.4,7.6,7.8]}}}},
{"data":{"values":[{}]},"mark":{"type":"point","opacity":0},"encoding":{"x":{"datum":0,"type":"quantitative","axis":{"orient":"bottom","offset":-163,"tickSize":5,"tickColor":"#8a8a8a","title":null,"values":[0.2,0.4,0.6,0.8,1,1.2,1.4,1.6,1.8,2,2.2,2.4,2.6,2.8,3,3.2,3.4,3.6,3.8,4,4.2,4.4,4.6,4.8,5,5.2,5.4,5.6,5.8,6,6.2,6.4,6.6,6.8,7,7.2,7.4,7.6,7.8,8,8.2,8.4,8.6,8.8,9,9.2,9.4,9.6,9.8]}},"y":{"datum":0,"type":"quantitative","axis":{"orient":"left","offset":-168.5,"tickSize":5,"tickColor":"#8a8a8a","title":null,"values":[0.2,0.4,0.6,0.8,1,1.2,1.4,1.6,1.8,2,2.2,2.4,2.6,2.8,3,3.2,3.4,3.6,3.8,4,4.2,4.4,4.6,4.8,5,5.2,5.4,5.6,5.8,6,6.2,6.4,6.6,6.8,7,7.2,7.4,7.6,7.8]}}}},
{"transform":[{"filter":"datum.k=='tr'&&datum.s=='EN'"}],"mark":{"type":"line","color":"#1ee4f0","strokeWidth":3.5},"encoding":{"x":{"field":"x","type":"quantitative","axis":null},"y":{"field":"y","type":"quantitative","axis":null},"order":{"field":"i","type":"quantitative"}}},
{"transform":[{"filter":"datum.k=='tr'&&datum.s=='base'"}],"mark":{"type":"line","color":"#333333","strokeWidth":3},"encoding":{"x":{"field":"x","type":"quantitative","axis":null},"y":{"field":"y","type":"quantitative","axis":null},"order":{"field":"i","type":"quantitative"}}},
{"transform":[{"filter":"datum.k=='tr'&&datum.s=='r125'"}],"mark":{"type":"line","color":"#7a7a7a","strokeWidth":2.5},"encoding":{"x":{"field":"x","type":"quantitative","axis":null},"y":{"field":"y","type":"quantitative","axis":null},"order":{"field":"i","type":"quantitative"}}},
{"transform":[{"filter":"datum.k=='tr'&&datum.s=='r10'"}],"mark":{"type":"line","color":"#8a8a8a","strokeWidth":1.3},"encoding":{"x":{"field":"x","type":"quantitative","axis":null},"y":{"field":"y","type":"quantitative","axis":null},"order":{"field":"i","type":"quantitative"}}},
{"transform":[{"filter":"datum.k=='tr'&&datum.s=='r20'"}],"mark":{"type":"line","color":"#222222","strokeWidth":1.1},"encoding":{"x":{"field":"x","type":"quantitative","axis":null},"y":{"field":"y","type":"quantitative","axis":null},"order":{"field":"i","type":"quantitative"}}},
{"transform":[{"filter":"datum.k=='tr'&&datum.s=='blue'"}],"mark":{"type":"line","color":"#1717ff","strokeWidth":1.2},"encoding":{"x":{"field":"x","type":"quantitative","axis":null},"y":{"field":"y","type":"quantitative","axis":null},"order":{"field":"i","type":"quantitative"}}},
{"transform":[{"filter":"datum.k=='tr'&&datum.s=='bluetop'"}],"mark":{"type":"line","color":"#1717ff","strokeWidth":3},"encoding":{"x":{"field":"x","type":"quantitative","axis":null},"y":{"field":"y","type":"quantitative","axis":null},"order":{"field":"i","type":"quantitative"}}},
{"transform":[{"filter":"datum.k=='tr'&&datum.s=='top'"}],"mark":{"type":"line","color":"#3a3a3a","strokeWidth":3,"opacity":0.85},"encoding":{"x":{"field":"x","type":"quantitative","axis":null},"y":{"field":"y","type":"quantitative","axis":null},"order":{"field":"i","type":"quantitative"}}},
{"transform":[{"filter":"datum.k=='L'"}],"mark":{"type":"text","align":"right","baseline":"middle","dx":-4},"encoding":{"x":{"datum":0,"type":"quantitative","axis":null},"y":{"field":"y","type":"quantitative","axis":null},"text":{"field":"t"}}},
{"transform":[{"filter":"datum.k=='LV'&&datum.s=='OUT'"}],"mark":{"type":"text","align":"right","baseline":"middle","dx":-22},"encoding":{"x":{"datum":0,"type":"quantitative","axis":null},"y":{"field":"y","type":"quantitative","axis":null},"text":{"field":"t"}}},
{"transform":[{"filter":"datum.k=='LV'&&datum.s=='OUT'"}],"mark":{"type":"text","align":"right","baseline":"middle","dx":-2,"dy":5,"fontSize":10.5},"encoding":{"x":{"datum":0,"type":"quantitative","axis":null},"y":{"field":"y","type":"quantitative","axis":null},"text":{"field":"s"}}},
{"transform":[{"filter":"datum.k=='R'"}],"mark":{"type":"text","align":"left","baseline":"middle","dx":3,"fontSize":13.5},"encoding":{"x":{"datum":10,"type":"quantitative","axis":null},"y":{"field":"y","type":"quantitative","axis":null},"text":{"field":"t"}}},
{"transform":[{"filter":"datum.k=='A'"}],"mark":{"type":"text","align":"center","baseline":"middle"},"encoding":{"x":{"field":"x","type":"quantitative","axis":null},"y":{"field":"y","type":"quantitative","axis":null},"text":{"field":"t"}}},
{"transform":[{"filter":"datum.k=='W'"}],"mark":{"type":"rule","color":"#111111","strokeWidth":1.2},"encoding":{"x":{"field":"x","type":"quantitative","axis":null},"y":{"field":"y","type":"quantitative","axis":null},"x2":{"field":"x2"},"y2":{"field":"y2"}}},
{"transform":[{"filter":"datum.k=='W'"},{"calculate":"atan2((datum.x2-datum.x)*33.2,(datum.y2-datum.y)*40.1)*180/PI","as":"ang"}],"mark":{"type":"point","shape":"triangle-up","filled":true,"color":"#111111","opacity":1,"size":55},"encoding":{"x":{"field":"x2","type":"quantitative","axis":null},"y":{"field":"y2","type":"quantitative","axis":null},"angle":{"field":"ang","type":"quantitative","scale":null}}},
{"transform":[{"filter":"datum.k=='toc'"}],"mark":{"type":"text","align":"right","baseline":"alphabetic","dx":-3,"dy":-3,"fontSize":10},"encoding":{"x":{"datum":10,"type":"quantitative","axis":null},"y":{"datum":8,"type":"quantitative","axis":null},"text":{"field":"t"}}},
{"transform":[{"filter":"datum.k=='TR'"}],"mark":{"type":"point","shape":"triangle-down","filled":true,"color":"#f07a1e","opacity":1,"size":40},"encoding":{"x":{"field":"x","type":"quantitative","axis":null},"y":{"datum":7.96,"type":"quantitative","axis":null}}},
{"transform":[{"filter":"datum.k=='T'"}],"mark":{"type":"point","shape":"square","filled":true,"color":"#f07a1e","opacity":1,"size":100},"encoding":{"x":{"field":"x","type":"quantitative","axis":null},"y":{"datum":7.73,"type":"quantitative","axis":null}}},
{"transform":[{"filter":"datum.k=='T'"}],"mark":{"type":"text","text":"T","color":"white","fontWeight":"bold","fontSize":10,"font":"Liberation Sans","baseline":"middle","align":"center","dy":1},"encoding":{"x":{"field":"x","type":"quantitative","axis":null},"y":{"datum":7.73,"type":"quantitative","axis":null}}},
{"transform":[{"filter":"datum.k=='G'"}],"mark":{"type":"rule","color":"#1b9aa0","strokeWidth":1.5},"encoding":{"x":{"datum":9.86,"type":"quantitative","axis":null},"x2":{"datum":9.96},"y":{"field":"y","type":"quantitative","axis":null}}},
{"transform":[{"filter":"datum.k=='G'"}],"mark":{"type":"point","shape":"triangle-left","filled":true,"color":"#1b9aa0","opacity":1,"size":30},"encoding":{"x":{"datum":9.86,"type":"quantitative","axis":null},"y":{"field":"y","type":"quantitative","axis":null}}}
]},
{"width":330,"height":320,"title":{"text":"REGULATOR ENABLE vs. BIAS STATUS","offset":7},
"data":{"name":"d"},"transform":[{"filter":"datum.p==5"}],
"resolve":{"axis":{"x":"independent","y":"independent"}},
"layer":[
{"data":{"values":[{}]},"mark":{"type":"point","opacity":0},"encoding":{"x":{"datum":0,"type":"quantitative","scale":{"domain":[0,10],"nice":false,"zero":false},"axis":{"orient":"bottom","values":[1,2,3,4,5,6,7,8,9],"grid":true,"ticks":false,"title":"10µs/div","titlePadding":9,"titleBaseline":"top"}},"y":{"datum":0,"type":"quantitative","scale":{"domain":[0,8],"nice":false,"zero":false},"axis":{"orient":"left","values":[1,2,3,4,5,6,7],"grid":true,"ticks":false,"title":null}}}},
{"data":{"values":[{}]},"mark":{"type":"point","opacity":0},"encoding":{"x":{"datum":0,"type":"quantitative","axis":{"orient":"top","offset":-3,"title":null,"values":[0.2,0.4,0.6,0.8,1,1.2,1.4,1.6,1.8,2,2.2,2.4,2.6,2.8,3,3.2,3.4,3.6,3.8,4,4.2,4.4,4.6,4.8,5,5.2,5.4,5.6,5.8,6,6.2,6.4,6.6,6.8,7,7.2,7.4,7.6,7.8,8,8.2,8.4,8.6,8.8,9,9.2,9.4,9.6,9.8]}},"y":{"datum":0,"type":"quantitative","axis":{"orient":"left","offset":-3,"title":null,"values":[0.2,0.4,0.6,0.8,1,1.2,1.4,1.6,1.8,2,2.2,2.4,2.6,2.8,3,3.2,3.4,3.6,3.8,4,4.2,4.4,4.6,4.8,5,5.2,5.4,5.6,5.8,6,6.2,6.4,6.6,6.8,7,7.2,7.4,7.6,7.8]}}}},
{"data":{"values":[{}]},"mark":{"type":"point","opacity":0},"encoding":{"x":{"datum":0,"type":"quantitative","axis":{"orient":"bottom","offset":-3,"title":null,"values":[0.2,0.4,0.6,0.8,1,1.2,1.4,1.6,1.8,2,2.2,2.4,2.6,2.8,3,3.2,3.4,3.6,3.8,4,4.2,4.4,4.6,4.8,5,5.2,5.4,5.6,5.8,6,6.2,6.4,6.6,6.8,7,7.2,7.4,7.6,7.8,8,8.2,8.4,8.6,8.8,9,9.2,9.4,9.6,9.8]}},"y":{"datum":0,"type":"quantitative","axis":{"orient":"right","offset":-3,"title":null,"values":[0.2,0.4,0.6,0.8,1,1.2,1.4,1.6,1.8,2,2.2,2.4,2.6,2.8,3,3.2,3.4,3.6,3.8,4,4.2,4.4,4.6,4.8,5,5.2,5.4,5.6,5.8,6,6.2,6.4,6.6,6.8,7,7.2,7.4,7.6,7.8]}}}},
{"data":{"values":[{}]},"mark":{"type":"point","opacity":0},"encoding":{"x":{"datum":0,"type":"quantitative","axis":{"orient":"bottom","offset":-162.5,"tickSize":5,"tickColor":"#8a8a8a","title":null,"values":[0.2,0.4,0.6,0.8,1,1.2,1.4,1.6,1.8,2,2.2,2.4,2.6,2.8,3,3.2,3.4,3.6,3.8,4,4.2,4.4,4.6,4.8,5,5.2,5.4,5.6,5.8,6,6.2,6.4,6.6,6.8,7,7.2,7.4,7.6,7.8,8,8.2,8.4,8.6,8.8,9,9.2,9.4,9.6,9.8]}},"y":{"datum":0,"type":"quantitative","axis":{"orient":"left","offset":-167.5,"tickSize":5,"tickColor":"#8a8a8a","title":null,"values":[0.2,0.4,0.6,0.8,1,1.2,1.4,1.6,1.8,2,2.2,2.4,2.6,2.8,3,3.2,3.4,3.6,3.8,4,4.2,4.4,4.6,4.8,5,5.2,5.4,5.6,5.8,6,6.2,6.4,6.6,6.8,7,7.2,7.4,7.6,7.8]}}}},
{"transform":[{"filter":"datum.k=='tr'&&datum.s=='EN'"}],"mark":{"type":"line","color":"#1ee4f0","strokeWidth":3.5},"encoding":{"x":{"field":"x","type":"quantitative","axis":null},"y":{"field":"y","type":"quantitative","axis":null},"order":{"field":"i","type":"quantitative"}}},
{"transform":[{"filter":"datum.k=='tr'&&datum.s=='blk'"}],"mark":{"type":"line","color":"#444444","strokeWidth":1.5},"encoding":{"x":{"field":"x","type":"quantitative","axis":null},"y":{"field":"y","type":"quantitative","axis":null},"order":{"field":"i","type":"quantitative"}}},
{"transform":[{"filter":"datum.k=='tr'&&datum.s=='blue'"}],"mark":{"type":"line","color":"#1717ff","strokeWidth":2.5},"encoding":{"x":{"field":"x","type":"quantitative","axis":null},"y":{"field":"y","type":"quantitative","axis":null},"order":{"field":"i","type":"quantitative"}}},
{"transform":[{"filter":"datum.k=='L'"}],"mark":{"type":"text","align":"right","baseline":"middle","dx":-4},"encoding":{"x":{"datum":0,"type":"quantitative","axis":null},"y":{"field":"y","type":"quantitative","axis":null},"text":{"field":"t"}}},
{"transform":[{"filter":"datum.k=='LV'&&datum.s=='OUT'"}],"mark":{"type":"text","align":"right","baseline":"middle","dx":-22},"encoding":{"x":{"datum":0,"type":"quantitative","axis":null},"y":{"field":"y","type":"quantitative","axis":null},"text":{"field":"t"}}},
{"transform":[{"filter":"datum.k=='LV'&&datum.s=='OUT'"}],"mark":{"type":"text","align":"right","baseline":"middle","dx":-2,"dy":5,"fontSize":10.5},"encoding":{"x":{"datum":0,"type":"quantitative","axis":null},"y":{"field":"y","type":"quantitative","axis":null},"text":{"field":"s"}}},
{"transform":[{"filter":"datum.k=='R'"}],"mark":{"type":"text","align":"left","baseline":"middle","dx":3,"fontSize":13.5},"encoding":{"x":{"datum":10,"type":"quantitative","axis":null},"y":{"field":"y","type":"quantitative","axis":null},"text":{"field":"t"}}},
{"transform":[{"filter":"datum.k=='A'"}],"mark":{"type":"text","align":"center","baseline":"middle"},"encoding":{"x":{"field":"x","type":"quantitative","axis":null},"y":{"field":"y","type":"quantitative","axis":null},"text":{"field":"t"}}},
{"transform":[{"filter":"datum.k=='toc'"}],"mark":{"type":"text","align":"right","baseline":"alphabetic","dx":-3,"dy":-3,"fontSize":10},"encoding":{"x":{"datum":10,"type":"quantitative","axis":null},"y":{"datum":8,"type":"quantitative","axis":null},"text":{"field":"t"}}},
{"transform":[{"filter":"datum.k=='TR'"}],"mark":{"type":"point","shape":"triangle-down","filled":true,"color":"#f07a1e","opacity":1,"size":40},"encoding":{"x":{"field":"x","type":"quantitative","axis":null},"y":{"datum":7.96,"type":"quantitative","axis":null}}},
{"transform":[{"filter":"datum.k=='T'"}],"mark":{"type":"point","shape":"square","filled":true,"color":"#f07a1e","opacity":1,"size":100},"encoding":{"x":{"field":"x","type":"quantitative","axis":null},"y":{"datum":7.73,"type":"quantitative","axis":null}}},
{"transform":[{"filter":"datum.k=='T'"}],"mark":{"type":"text","text":"T","color":"white","fontWeight":"bold","fontSize":10,"font":"Liberation Sans","baseline":"middle","align":"center","dy":1},"encoding":{"x":{"field":"x","type":"quantitative","axis":null},"y":{"datum":7.73,"type":"quantitative","axis":null}}},
{"transform":[{"filter":"datum.k=='G'"}],"mark":{"type":"rule","color":"#1b9aa0","strokeWidth":1.5},"encoding":{"x":{"datum":9.86,"type":"quantitative","axis":null},"x2":{"datum":9.96},"y":{"field":"y","type":"quantitative","axis":null}}},
{"transform":[{"filter":"datum.k=='G'"}],"mark":{"type":"point","shape":"triangle-left","filled":true,"color":"#1b9aa0","opacity":1,"size":30},"encoding":{"x":{"datum":9.86,"type":"quantitative","axis":null},"y":{"field":"y","type":"quantitative","axis":null}}}
]},
{"width":329,"height":320,"title":{"text":["REGULATOR SHUTDOWN","ACTIVE DISCHARGE ENABLED"],"offset":2},
"data":{"name":"d"},"transform":[{"filter":"datum.p==6"}],
"resolve":{"axis":{"x":"independent","y":"independent"}},
"layer":[
{"data":{"values":[{}]},"mark":{"type":"point","opacity":0},"encoding":{"x":{"datum":0,"type":"quantitative","scale":{"domain":[0,10],"nice":false,"zero":false},"axis":{"orient":"bottom","values":[1,2,3,4,5,6,7,8,9],"grid":true,"ticks":false,"title":"4ms/div","titlePadding":9,"titleBaseline":"top"}},"y":{"datum":0,"type":"quantitative","scale":{"domain":[0,8],"nice":false,"zero":false},"axis":{"orient":"left","values":[1,2,3,4,5,6,7],"grid":true,"ticks":false,"title":null}}}},
{"data":{"values":[{}]},"mark":{"type":"point","opacity":0},"encoding":{"x":{"datum":0,"type":"quantitative","axis":{"orient":"top","offset":-3,"title":null,"values":[0.2,0.4,0.6,0.8,1,1.2,1.4,1.6,1.8,2,2.2,2.4,2.6,2.8,3,3.2,3.4,3.6,3.8,4,4.2,4.4,4.6,4.8,5,5.2,5.4,5.6,5.8,6,6.2,6.4,6.6,6.8,7,7.2,7.4,7.6,7.8,8,8.2,8.4,8.6,8.8,9,9.2,9.4,9.6,9.8]}},"y":{"datum":0,"type":"quantitative","axis":{"orient":"left","offset":-3,"title":null,"values":[0.2,0.4,0.6,0.8,1,1.2,1.4,1.6,1.8,2,2.2,2.4,2.6,2.8,3,3.2,3.4,3.6,3.8,4,4.2,4.4,4.6,4.8,5,5.2,5.4,5.6,5.8,6,6.2,6.4,6.6,6.8,7,7.2,7.4,7.6,7.8]}}}},
{"data":{"values":[{}]},"mark":{"type":"point","opacity":0},"encoding":{"x":{"datum":0,"type":"quantitative","axis":{"orient":"bottom","offset":-3,"title":null,"values":[0.2,0.4,0.6,0.8,1,1.2,1.4,1.6,1.8,2,2.2,2.4,2.6,2.8,3,3.2,3.4,3.6,3.8,4,4.2,4.4,4.6,4.8,5,5.2,5.4,5.6,5.8,6,6.2,6.4,6.6,6.8,7,7.2,7.4,7.6,7.8,8,8.2,8.4,8.6,8.8,9,9.2,9.4,9.6,9.8]}},"y":{"datum":0,"type":"quantitative","axis":{"orient":"right","offset":-3,"title":null,"values":[0.2,0.4,0.6,0.8,1,1.2,1.4,1.6,1.8,2,2.2,2.4,2.6,2.8,3,3.2,3.4,3.6,3.8,4,4.2,4.4,4.6,4.8,5,5.2,5.4,5.6,5.8,6,6.2,6.4,6.6,6.8,7,7.2,7.4,7.6,7.8]}}}},
{"data":{"values":[{}]},"mark":{"type":"point","opacity":0},"encoding":{"x":{"datum":0,"type":"quantitative","axis":{"orient":"bottom","offset":-162.5,"tickSize":5,"tickColor":"#8a8a8a","title":null,"values":[0.2,0.4,0.6,0.8,1,1.2,1.4,1.6,1.8,2,2.2,2.4,2.6,2.8,3,3.2,3.4,3.6,3.8,4,4.2,4.4,4.6,4.8,5,5.2,5.4,5.6,5.8,6,6.2,6.4,6.6,6.8,7,7.2,7.4,7.6,7.8,8,8.2,8.4,8.6,8.8,9,9.2,9.4,9.6,9.8]}},"y":{"datum":0,"type":"quantitative","axis":{"orient":"left","offset":-167,"tickSize":5,"tickColor":"#8a8a8a","title":null,"values":[0.2,0.4,0.6,0.8,1,1.2,1.4,1.6,1.8,2,2.2,2.4,2.6,2.8,3,3.2,3.4,3.6,3.8,4,4.2,4.4,4.6,4.8,5,5.2,5.4,5.6,5.8,6,6.2,6.4,6.6,6.8,7,7.2,7.4,7.6,7.8]}}}},
{"transform":[{"filter":"datum.k=='tr'&&datum.s=='EN'"}],"mark":{"type":"line","color":"#1ee4f0","strokeWidth":2},"encoding":{"x":{"field":"x","type":"quantitative","axis":null},"y":{"field":"y","type":"quantitative","axis":null},"order":{"field":"i","type":"quantitative"}}},
{"transform":[{"filter":"datum.k=='tr'&&datum.s=='blue'"}],"mark":{"type":"line","color":"#1717ff","strokeWidth":2.5},"encoding":{"x":{"field":"x","type":"quantitative","axis":null},"y":{"field":"y","type":"quantitative","axis":null},"order":{"field":"i","type":"quantitative"}}},
{"transform":[{"filter":"datum.k=='L'"}],"mark":{"type":"text","align":"right","baseline":"middle","dx":-4},"encoding":{"x":{"datum":0,"type":"quantitative","axis":null},"y":{"field":"y","type":"quantitative","axis":null},"text":{"field":"t"}}},
{"transform":[{"filter":"datum.k=='LV'&&datum.s=='OUT'"}],"mark":{"type":"text","align":"right","baseline":"middle","dx":-22},"encoding":{"x":{"datum":0,"type":"quantitative","axis":null},"y":{"field":"y","type":"quantitative","axis":null},"text":{"field":"t"}}},
{"transform":[{"filter":"datum.k=='LV'&&datum.s=='OUT'"}],"mark":{"type":"text","align":"right","baseline":"middle","dx":-2,"dy":5,"fontSize":10.5},"encoding":{"x":{"datum":0,"type":"quantitative","axis":null},"y":{"field":"y","type":"quantitative","axis":null},"text":{"field":"s"}}},
{"transform":[{"filter":"datum.k=='R'"}],"mark":{"type":"text","align":"left","baseline":"middle","dx":3,"fontSize":13.5},"encoding":{"x":{"datum":10,"type":"quantitative","axis":null},"y":{"field":"y","type":"quantitative","axis":null},"text":{"field":"t"}}},
{"transform":[{"filter":"datum.k=='toc'"}],"mark":{"type":"text","align":"right","baseline":"alphabetic","dx":-3,"dy":-3,"fontSize":10},"encoding":{"x":{"datum":10,"type":"quantitative","axis":null},"y":{"datum":8,"type":"quantitative","axis":null},"text":{"field":"t"}}},
{"transform":[{"filter":"datum.k=='TR'"}],"mark":{"type":"point","shape":"triangle-down","filled":true,"color":"#f07a1e","opacity":1,"size":40},"encoding":{"x":{"field":"x","type":"quantitative","axis":null},"y":{"datum":7.96,"type":"quantitative","axis":null}}},
{"transform":[{"filter":"datum.k=='T'"}],"mark":{"type":"point","shape":"square","filled":true,"color":"#f07a1e","opacity":1,"size":100},"encoding":{"x":{"field":"x","type":"quantitative","axis":null},"y":{"datum":7.73,"type":"quantitative","axis":null}}},
{"transform":[{"filter":"datum.k=='T'"}],"mark":{"type":"text","text":"T","color":"white","fontWeight":"bold","fontSize":10,"font":"Liberation Sans","baseline":"middle","align":"center","dy":1},"encoding":{"x":{"field":"x","type":"quantitative","axis":null},"y":{"datum":7.73,"type":"quantitative","axis":null}}},
{"transform":[{"filter":"datum.k=='G'"}],"mark":{"type":"rule","color":"#1b9aa0","strokeWidth":1.5},"encoding":{"x":{"datum":9.86,"type":"quantitative","axis":null},"x2":{"datum":9.96},"y":{"field":"y","type":"quantitative","axis":null}}},
{"transform":[{"filter":"datum.k=='G'"}],"mark":{"type":"point","shape":"triangle-left","filled":true,"color":"#1b9aa0","opacity":1,"size":30},"encoding":{"x":{"datum":9.86,"type":"quantitative","axis":null},"y":{"field":"y","type":"quantitative","axis":null}}}
]}
],
"config":{
"view":{"stroke":"#1a1a1a","strokeWidth":1.6},
"text":{"font":"Liberation Sans Narrow, Arial Narrow, DejaVu Sans Condensed, Liberation Sans, sans-serif","fontSize":14,"color":"#111111"},
"title":{"font":"Liberation Sans Narrow, Arial Narrow, DejaVu Sans Condensed, Liberation Sans, sans-serif","fontSize":18,"fontWeight":"normal","color":"#111111","anchor":"middle","frame":"group","baseline":"bottom","lineHeight":22},
"axis":{"labels":false,"domain":false,"grid":false,"ticks":true,"tickSize":3,"tickColor":"#707070","tickWidth":1,"gridDash":[1,5],"gridColor":"#7d7d7d","gridWidth":1,"zindex":0,"titleFont":"Liberation Sans Narrow, Arial Narrow, DejaVu Sans Condensed, Liberation Sans, sans-serif","titleFontSize":14,"titleFontWeight":"normal","titleColor":"#111111"}
}
}
